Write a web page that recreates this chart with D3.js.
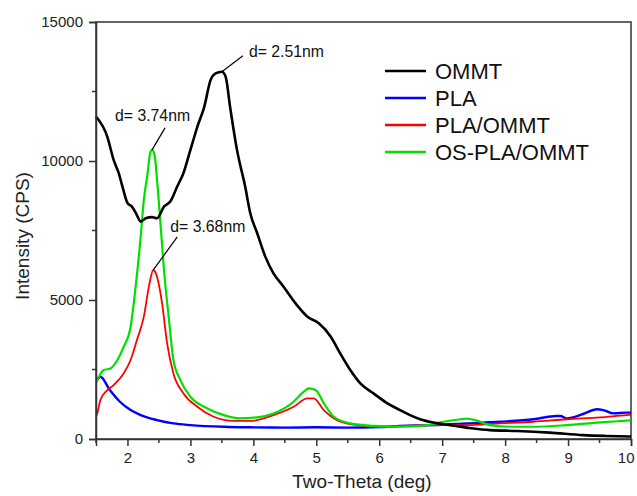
<!DOCTYPE html>
<html>
<head>
<meta charset="utf-8">
<script src="https://cdn.jsdelivr.net/npm/d3@7/dist/d3.min.js"></script>
<style>
  html, body { margin: 0; padding: 0; background: #fff; }
  svg { display: block; font-family: "Liberation Sans", Arial, sans-serif; }
</style>
</head>
<body>
<svg id="chart" width="637" height="496"></svg>
<script>
// ---- data ----
const ommtX = [1.5, 1.68, 1.78, 1.86, 1.92, 2.0, 2.07, 2.14, 2.21, 2.29, 2.39, 2.47, 2.58, 2.68, 2.79, 2.89, 3.0, 3.11, 3.22, 3.32, 3.40, 3.50, 3.56, 3.63, 3.74, 3.87, 3.95, 4.06, 4.19, 4.32, 4.48, 4.67, 4.86, 5.04, 5.23, 5.38, 5.54, 5.70, 5.91, 6.13, 6.33, 6.49, 6.65, 6.86, 7.02, 7.39, 7.76, 8.19, 8.71, 9.24, 9.6, 10.0];
const ommtY = [11600, 10870, 10040, 9570, 9080, 8490, 8360, 8100, 7820, 7940, 7980, 7940, 8360, 8540, 9080, 9570, 10400, 11230, 11950, 12910, 13150, 13210, 13030, 11950, 10400, 9080, 8130, 7410, 6560, 5960, 5480, 4880, 4400, 4160, 3680, 3080, 2480, 2000, 1640, 1280, 1040, 860, 710, 590, 530, 410, 320, 290, 230, 140, 110, 90];

const plaX = [1.52, 1.57, 1.72, 1.88, 2.05, 2.21, 2.47, 2.73, 3.0, 3.53, 3.95, 4.5, 5.0, 5.5, 6.0, 6.33, 6.86, 7.39, 7.92, 8.45, 8.82, 8.88, 8.98, 9.24, 9.46, 9.56, 9.72, 9.93, 10.0];
const plaY = [2150, 2240, 1760, 1340, 1040, 860, 680, 560, 500, 440, 420, 410, 420, 410, 430, 470, 500, 560, 620, 710, 830, 830, 740, 900, 1070, 1040, 920, 950, 950];

const plaOmmtX = [1.5, 1.52, 1.57, 1.68, 1.78, 1.94, 2.05, 2.15, 2.26, 2.34, 2.41, 2.47, 2.55, 2.63, 2.73, 2.89, 3.11, 3.37, 3.69, 3.95, 4.32, 4.64, 4.86, 4.96, 5.12, 5.33, 5.65, 6.02, 6.86, 7.39, 7.92, 8.45, 8.98, 9.51, 9.93, 10.0];
const plaOmmtY = [800, 920, 1400, 1760, 1940, 2360, 2840, 3560, 4400, 5480, 6080, 5840, 4880, 3440, 2360, 1640, 1160, 800, 650, 650, 860, 1160, 1460, 1460, 1040, 680, 500, 440, 500, 500, 560, 620, 710, 780, 860, 870];

const osPlaX = [1.5, 1.52, 1.62, 1.73, 1.84, 1.94, 2.05, 2.13, 2.21, 2.26, 2.32, 2.36, 2.39, 2.43, 2.47, 2.52, 2.58, 2.66, 2.73, 2.84, 3.0, 3.27, 3.53, 3.79, 4.06, 4.32, 4.64, 4.80, 4.88, 4.99, 5.12, 5.28, 5.54, 5.91, 6.33, 6.76, 7.02, 7.29, 7.39, 7.55, 7.76, 8.08, 8.45, 8.98, 9.51, 9.93, 10.0];
const osPlaY = [2050, 2120, 2480, 2540, 2840, 3320, 4040, 5480, 7280, 8600, 9560, 10280, 10400, 10220, 9320, 7880, 6080, 4280, 2840, 2120, 1520, 1100, 860, 740, 780, 920, 1340, 1700, 1820, 1760, 1280, 800, 560, 470, 440, 500, 620, 710, 730, 660, 500, 440, 440, 500, 600, 660, 670];

const seriesNames = ["OMMT", "PLA", "PLA/OMMT", "OS-PLA/OMMT"];
const seriesColors = ["#000000", "#0000ff", "#ff0000", "#00e000"];
const xTicks = [2, 3, 4, 5, 6, 7, 8, 9, 10];
const yTicks = [0, 5000, 10000, 15000];
const annotations = [
  { label: "d= 2.51nm", x: 3.50, y: 13210 },
  { label: "d= 3.74nm", x: 2.39, y: 10400 },
  { label: "d= 3.68nm", x: 2.41, y: 6080 }
];

// ---- layout ----
const svg = d3.select("#chart");
const mLeft = 96, mRight = 631, mTop = 22, mBottom = 439;
const x = d3.scaleLinear().domain([1.5, 10]).range([mLeft, mRight]);
const y = d3.scaleLinear().domain([0, 15000]).range([mBottom, mTop]);

const axisColor = "#333";

// frame
svg.append("rect")
  .attr("x", mLeft).attr("y", mTop)
  .attr("width", mRight - mLeft).attr("height", mBottom - mTop)
  .attr("fill", "none").attr("stroke", axisColor).attr("stroke-width", 1.5);

// series
const seriesData = [
  d3.zip(ommtX, ommtY),
  d3.zip(plaX, plaY),
  d3.zip(plaOmmtX, plaOmmtY),
  d3.zip(osPlaX, osPlaY)
];
const widths = [2.6, 2.4, 1.8, 2.2];
const line = d3.line().x(d => x(d[0])).y(d => y(d[1])).curve(d3.curveMonotoneX);
const drawOrder = [1, 2, 3, 0];
const plotG = svg.append("g");
drawOrder.forEach(i => {
  plotG.append("path")
    .datum(seriesData[i])
    .attr("fill", "none")
    .attr("stroke", seriesColors[i])
    .attr("stroke-width", widths[i])
    .attr("stroke-linejoin", "round")
    .attr("d", line);
});

// x axis
const xAxis = d3.axisBottom(x).tickValues(xTicks).tickSize(7).tickPadding(6).tickFormat(d3.format("d"));
const gx = svg.append("g").attr("transform", `translate(0,${mBottom})`).call(xAxis);
gx.select(".domain").attr("stroke", axisColor).attr("stroke-width", 1.5);
gx.selectAll(".tick line").attr("stroke", axisColor).attr("stroke-width", 1.5);
gx.selectAll(".tick text").attr("font-size", 15).attr("fill", "#222").attr("font-family", "Liberation Sans, Arial, sans-serif");
gx.selectAll(".tick text").filter(d => d === 10).attr("text-anchor", "end").attr("dx", "0.2em");
// minor x ticks
const xMinor = d3.range(1.5, 10.01, 1);
svg.append("g").selectAll("line").data(xMinor).join("line")
  .attr("x1", d => x(d)).attr("x2", d => x(d))
  .attr("y1", mBottom).attr("y2", mBottom + 4)
  .attr("stroke", axisColor).attr("stroke-width", 1.5);

// y axis
const yAxis = d3.axisLeft(y).tickValues(yTicks).tickSize(7).tickPadding(6).tickFormat(d3.format("d"));
const gy = svg.append("g").attr("transform", `translate(${mLeft},0)`).call(yAxis);
gy.select(".domain").attr("stroke", axisColor).attr("stroke-width", 1.5);
gy.selectAll(".tick line").attr("stroke", axisColor).attr("stroke-width", 1.5);
gy.selectAll(".tick text").attr("font-size", 15).attr("fill", "#222").attr("font-family", "Liberation Sans, Arial, sans-serif");
const yMinor = [2500, 7500, 12500];
svg.append("g").selectAll("line").data(yMinor).join("line")
  .attr("x1", mLeft - 4).attr("x2", mLeft)
  .attr("y1", d => y(d)).attr("y2", d => y(d))
  .attr("stroke", axisColor).attr("stroke-width", 1.5);

// axis titles
svg.append("text")
  .attr("x", 362).attr("y", 488)
  .attr("text-anchor", "middle").attr("font-size", 19).attr("fill", "#222")
  .text("Two-Theta (deg)");
svg.append("text")
  .attr("transform", `translate(29,236) rotate(-90)`)
  .attr("text-anchor", "middle").attr("font-size", 19).attr("fill", "#222")
  .text("Intensity (CPS)");

// annotations
const annOffsets = [[21, -16, 27, -15], [13, -22, -37, -29], [24, -33, 17, -38]];
annotations.forEach((a, i) => {
  const px = x(a.x), py = y(a.y);
  const o = annOffsets[i];
  svg.append("line")
    .attr("x1", px).attr("y1", py)
    .attr("x2", px + o[0]).attr("y2", py + o[1])
    .attr("stroke", "#000").attr("stroke-width", 1.2);
  svg.append("text")
    .attr("x", px + o[2]).attr("y", py + o[3])
    .attr("font-size", 15.8).attr("fill", "#111")
    .text(a.label);
});

// legend
const legG = svg.append("g");
seriesNames.forEach((n, i) => {
  const ly = 71 + i * 27;
  legG.append("line")
    .attr("x1", 385).attr("x2", 426).attr("y1", ly).attr("y2", ly)
    .attr("stroke", seriesColors[i]).attr("stroke-width", 2.5);
  legG.append("text")
    .attr("x", 435).attr("y", ly).attr("dy", "0.36em")
    .attr("font-size", 22).attr("fill", "#111")
    .text(n);
});
</script>
</body>
</html>
